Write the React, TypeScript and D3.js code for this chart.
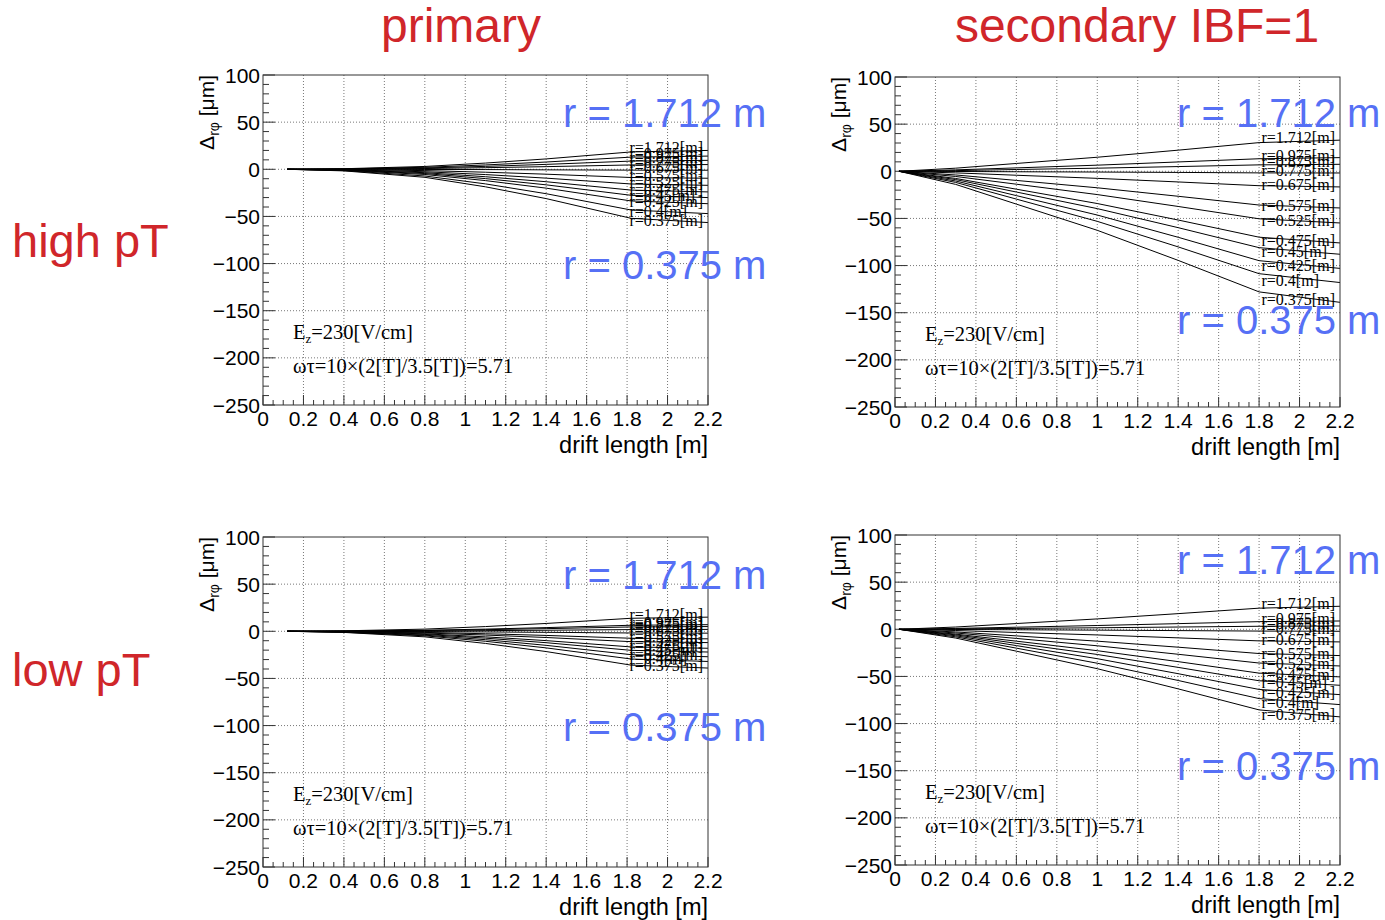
import React from "react";
import * as d3 from "d3";

// ---------- data ----------
const RADII = ["1.712", "0.975", "0.875", "0.775", "0.675", "0.575", "0.525", "0.475", "0.45", "0.425", "0.4", "0.375"];

const X_PRIMARY = [0.12, 0.4, 0.8, 1.1, 1.4, 1.82, 2.2];
const X_SECONDARY = [0.02, 0.3, 0.6, 1.0, 1.4, 1.8, 2.2];

const PRIMARY_HIGH = [
  [0, 0.6, 3.0, 6.6, 11, 18.4, 20],
  [0, 0.4, 2.1, 4.6, 7.7, 12.9, 14],
  [0, 0.3, 1.4, 3.1, 5.2, 8.7, 9.5],
  [0, 0.2, 0.8, 1.7, 2.8, 4.6, 5],
  [0, 0, -0.2, -0.3, -0.6, -0.9, -1],
  [0, -0.3, -1.4, -3.1, -5.2, -8.7, -9.5],
  [0, -0.5, -2.6, -5.6, -9.4, -15.6, -17],
  [0, -0.7, -3.6, -7.9, -13.2, -22.1, -24],
  [0, -0.9, -4.5, -9.9, -16.5, -27.6, -30],
  [0, -1.1, -5.5, -12, -20, -33.6, -36.5],
  [0, -1.4, -7.1, -15.5, -25.9, -43.2, -47],
  [0, -1.7, -8.5, -18.6, -31.1, -52, -56.5],
];

const PRIMARY_LOW = [
  [0, 0.5, 2.3, 5, 8.3, 13.8, 15],
  [0, 0.2, 1.1, 2.3, 3.9, 6.4, 7],
  [0, 0.2, 0.8, 1.7, 2.8, 4.6, 5],
  [0, 0.1, 0.3, 0.7, 1.1, 1.8, 2],
  [0, -0.1, -0.3, -0.7, -1.1, -1.8, -2],
  [0, -0.2, -1.2, -2.6, -4.4, -7.4, -8],
  [0, -0.4, -1.8, -4, -6.6, -11, -12],
  [0, -0.5, -2.7, -5.9, -9.9, -16.6, -18],
  [0, -0.7, -3.3, -7.3, -12.1, -20.2, -22],
  [0, -0.8, -4.1, -8.9, -14.9, -24.8, -27],
  [0, -1, -4.8, -10.6, -17.6, -29.4, -32],
  [0, -1.2, -5.9, -12.9, -21.5, -35.9, -39],
];

const SECONDARY_HIGH = [
  [0, 3.3, 8.3, 14.9, 22.4, 30.4, 33],
  [0, 1.5, 3.6, 6.5, 9.9, 13.3, 14.5],
  [0, 0.7, 1.9, 3.3, 5, 6.8, 7.4],
  [0, -0.2, -0.5, -0.8, -1.2, -1.7, -1.8],
  [0, -1.7, -4.2, -7.5, -11.3, -15.3, -16.6],
  [0, -3.9, -9.7, -17.5, -26.5, -35.8, -38.9],
  [0, -5.5, -13.7, -24.7, -37.3, -50.4, -54.8],
  [0, -7.6, -19, -34.2, -51.7, -69.9, -76],
  [0, -8.8, -22, -39.6, -59.8, -81, -88],
  [0, -10.3, -25.8, -46.4, -70, -94.8, -103],
  [0, -11.8, -29.5, -53.1, -80.2, -108.6, -118],
  [0, -13.9, -34.8, -62.6, -94.5, -127.9, -139],
];

const SECONDARY_LOW = [
  [0, 2.4, 6.1, 11, 16.6, 22.4, 24.4],
  [0, 0.9, 2.2, 4, 6, 8.1, 8.8],
  [0, 0.4, 0.9, 1.6, 2.4, 3.2, 3.5],
  [0, -0.2, -0.5, -0.9, -1.4, -1.9, -2.1],
  [0, -1.3, -3.4, -6, -9.1, -12.3, -13.4],
  [0, -2.8, -7, -12.6, -19, -25.7, -27.9],
  [0, -3.9, -9.7, -17.5, -26.5, -35.8, -38.9],
  [0, -5.1, -12.6, -22.7, -34.3, -46.5, -50.5],
  [0, -5.9, -14.9, -26.7, -40.4, -54.6, -59.4],
  [0, -6.9, -17.3, -31.2, -47.1, -63.8, -69.3],
  [0, -8, -20, -36, -54.3, -73.5, -79.9],
  [0, -9.3, -23.2, -41.8, -63.2, -85.5, -92.9],
];

const X_TICKS = [0, 0.2, 0.4, 0.6, 0.8, 1, 1.2, 1.4, 1.6, 1.8, 2, 2.2];
const Y_TICKS = [-250, -200, -150, -100, -50, 0, 50, 100];

const COL_TITLES = ["primary", "secondary IBF=1"];
const ROW_TITLES = ["high pT", "low pT"];

// ---------- style ----------
const SANS = "'Liberation Sans', Arial, Helvetica, sans-serif";
const SERIF = "'Liberation Serif', 'Times New Roman', serif";
const RED = "#d0262a";
const BLUE = "#5670f5";

const PW = 445;
const PH = 330;

type PanelCfg = {
  x0: number;
  y0: number;
  xs: number[];
  series: number[][];
  blueTop: number;
  blueBottom: number;
  blueX: number;
};

const PANELS: PanelCfg[] = [
  { x0: 263, y0: 75, xs: X_PRIMARY, series: PRIMARY_HIGH, blueTop: 127, blueBottom: 279, blueX: 563 },
  { x0: 895, y0: 77, xs: X_SECONDARY, series: SECONDARY_HIGH, blueTop: 127, blueBottom: 334, blueX: 1177 },
  { x0: 263, y0: 537, xs: X_PRIMARY, series: PRIMARY_LOW, blueTop: 589, blueBottom: 741, blueX: 563 },
  { x0: 895, y0: 535, xs: X_SECONDARY, series: SECONDARY_LOW, blueTop: 574, blueBottom: 780, blueX: 1177 },
];

function fmt(v: number) {
  const s = String(+v.toFixed(1));
  return s.replace("-", "\u2212");
}

function Panel({ cfg, idx }: { cfg: PanelCfg; idx: number }) {
  const x = d3.scaleLinear().domain([0, 2.2]).range([cfg.x0, cfg.x0 + PW]);
  const y = d3.scaleLinear().domain([-250, 100]).range([cfg.y0 + PH, cfg.y0]);
  const line = d3
    .line<[number, number]>()
    .x((d) => x(d[0]))
    .y((d) => y(d[1]));
  const xMinor = d3.range(0, 2.2001, 0.05).filter((v) => Math.abs(v / 0.2 - Math.round(v / 0.2)) > 1e-6);
  const yMinor = d3.range(-250, 100.001, 10).filter((v) => v % 50 !== 0);
  const clipId = `clip${idx}`;
  const bottom = cfg.y0 + PH;
  const right = cfg.x0 + PW;
  return (
    <g>
      <defs>
        <clipPath id={clipId}>
          <rect x={cfg.x0} y={cfg.y0} width={PW} height={PH} />
        </clipPath>
      </defs>
      {/* grid */}
      {X_TICKS.slice(1, -1).map((t) => (
        <line key={"gx" + t} x1={x(t)} x2={x(t)} y1={cfg.y0} y2={bottom} stroke="#555" strokeWidth={0.8} strokeDasharray="1,2" />
      ))}
      {Y_TICKS.slice(1, -1).map((t) => (
        <line key={"gy" + t} x1={cfg.x0} x2={right} y1={y(t)} y2={y(t)} stroke="#555" strokeWidth={0.8} strokeDasharray="1,2" />
      ))}
      {/* ticks */}
      {X_TICKS.map((t) => (
        <line key={"tx" + t} x1={x(t)} x2={x(t)} y1={bottom} y2={bottom - 10} stroke="#333" strokeWidth={1} />
      ))}
      {xMinor.map((t) => (
        <line key={"mx" + t} x1={x(t)} x2={x(t)} y1={bottom} y2={bottom - 5} stroke="#333" strokeWidth={1} />
      ))}
      {Y_TICKS.map((t) => (
        <line key={"ty" + t} x1={cfg.x0} x2={cfg.x0 + 12} y1={y(t)} y2={y(t)} stroke="#333" strokeWidth={1} />
      ))}
      {yMinor.map((t) => (
        <line key={"my" + t} x1={cfg.x0} x2={cfg.x0 + 6} y1={y(t)} y2={y(t)} stroke="#333" strokeWidth={1} />
      ))}
      {/* series */}
      <g clipPath={`url(#${clipId})`}>
        {cfg.series.map((vals, i) => (
          <path
            key={"s" + i}
            d={line(cfg.xs.map((xv, j) => [xv, vals[j]] as [number, number])) || ""}
            fill="none"
            stroke="#000"
            strokeWidth={1}
          />
        ))}
      </g>
      {/* series labels */}
      {cfg.series.map((vals, i) => (
        <text
          key={"l" + i}
          x={x(1.812)}
          y={y(vals[vals.length - 1]) + 3}
          fontFamily={SERIF}
          fontSize={16}
          fill="#000"
        >
          {`r=${RADII[i]}[m]`}
        </text>
      ))}
      {/* frame */}
      <rect x={cfg.x0} y={cfg.y0} width={PW} height={PH} fill="none" stroke="#333" strokeWidth={1} />
      {/* tick labels */}
      {Y_TICKS.map((t) => (
        <text key={"yl" + t} x={cfg.x0 - 3} y={y(t)} dy="0.36em" textAnchor="end" fontFamily={SANS} fontSize={21} fill="#000">
          {fmt(t)}
        </text>
      ))}
      {X_TICKS.map((t) => (
        <text key={"xl" + t} x={x(t)} y={bottom + 21} textAnchor="middle" fontFamily={SANS} fontSize={21} fill="#000">
          {fmt(t)}
        </text>
      ))}
      <text x={right} y={bottom + 48} textAnchor="end" fontFamily={SANS} fontSize={23.5} fill="#000">
        drift length [m]
      </text>
      <text
        transform={`translate(${cfg.x0 - 49},${cfg.y0}) rotate(-90)`}
        textAnchor="end"
        fontFamily={SANS}
        fontSize={21}
        fill="#000"
      >
        Δ<tspan fontSize={14} dy="5">rφ</tspan>
        <tspan dy="-5"> [μm]</tspan>
      </text>
      {/* annotations */}
      <text x={cfg.x0 + 30} y={cfg.y0 + 264} fontFamily={SERIF} fontSize={20.5} fill="#000">
        E<tspan fontSize={13} dy="4">z</tspan>
        <tspan dy="-4">=230[V/cm]</tspan>
      </text>
      <text x={cfg.x0 + 30} y={cfg.y0 + 298} fontFamily={SERIF} fontSize={20.5} fill="#000">
        ωτ=10×(2[T]/3.5[T])=5.71
      </text>
      {/* blue overlay labels */}
      <text x={cfg.blueX} y={cfg.blueTop} fontFamily={SANS} fontSize={40} fill={BLUE}>
        r = 1.712 m
      </text>
      <text x={cfg.blueX} y={cfg.blueBottom} fontFamily={SANS} fontSize={40} fill={BLUE}>
        r = 0.375 m
      </text>
    </g>
  );
}

export default function App() {
  return (
    <svg width={1385} height={920} style={{ position: "absolute", left: 0, top: 0, background: "#fff" }}>
      <rect x={0} y={0} width={1385} height={920} fill="#fff" />
      <text x={461} y={42} textAnchor="middle" fontFamily={SANS} fontSize={48} fill={RED}>
        {COL_TITLES[0]}
      </text>
      <text x={1137} y={42} textAnchor="middle" fontFamily={SANS} fontSize={48} fill={RED}>
        {COL_TITLES[1]}
      </text>
      <text x={12} y={257} fontFamily={SANS} fontSize={47} fill={RED}>
        {ROW_TITLES[0]}
      </text>
      <text x={12} y={686} fontFamily={SANS} fontSize={47} fill={RED}>
        {ROW_TITLES[1]}
      </text>
      {PANELS.map((p, i) => (
        <Panel key={i} cfg={p} idx={i} />
      ))}
    </svg>
  );
}
